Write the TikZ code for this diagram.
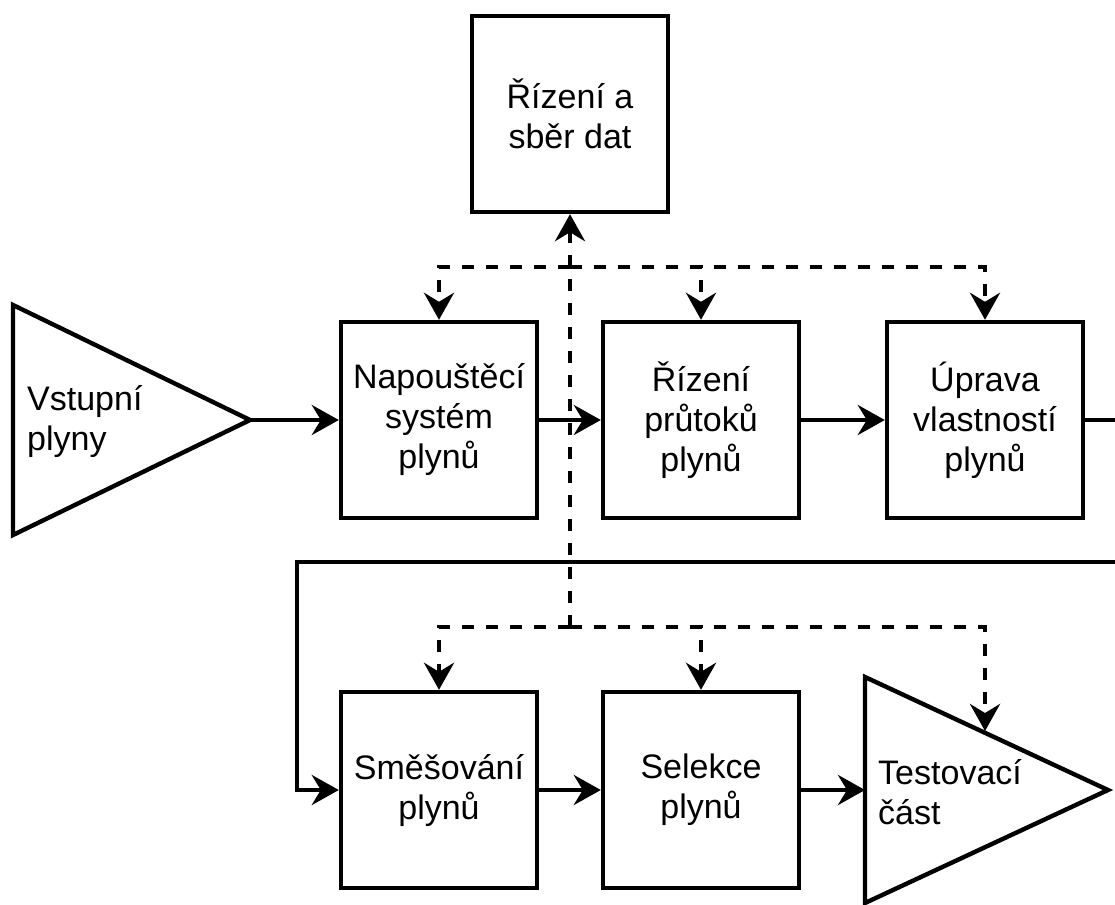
\documentclass[tikz,border=0pt]{standalone}
\usepackage{fontspec}
\setmainfont{Liberation Sans}
\usetikzlibrary{arrows.meta}
\begin{document}
\begin{tikzpicture}[x=1pt,y=-1pt,
  txt/.style={font=\fontsize{34}{40}\selectfont},
  block/.style={draw, line width=4.4pt, fill=white, minimum width=196pt,
    minimum height=196pt, inner sep=0pt, align=center, txt},
  lbl/.style={inner sep=0pt, align=left, txt, anchor=west},
  wire/.style={line width=4.4pt},
  flow/.style={wire, -{Stealth[length=27pt,width=30pt,inset=9pt]}},
  ctrl/.style={flow, dash pattern=on 12pt off 12pt}]
\useasboundingbox (0,0) rectangle (1115,904);
\clip (0,0) rectangle (1115,904);

% blocks
\node[block] (dat)  at (570,114) {Řízení a\\sběr dat};
\node[block] (napo) at (439,420) {Napouštěcí\\systém\\plynů};
\node[block] (prut) at (701,420) {Řízení\\průtoků\\plynů};
\node[block] (upr)  at (985,420) {Úprava\\vlastností\\plynů};
\node[block] (smes) at (439,790) {Směšování\\plynů};
\node[block] (sel)  at (701,790) {Selekce\\plynů};

% input and output triangles
\draw[wire] (13,305) -- (250,420) -- (13,535) -- cycle;
\coordinate (inTip) at (250,420);
\node[lbl] (inTxt) at (27,422) {Vstupní\\plyny};

\draw[wire] (865,677) -- (1108,790) -- (865,903) -- cycle;
\coordinate (testL) at (865,790);
\coordinate (testEdge) at (985,731);
\node[lbl] (testTxt) at (878,792) {Testovací\\část};

% gas flow
\coordinate (loopR) at (1135,562);
\coordinate (loopL) at (297,562);
\draw[flow] (inTip) -- (napo.west);
\draw[flow] (napo.east) -- (prut.west);
\draw[flow] (prut.east) -- (upr.west);
\draw[flow] (upr.east) -- (upr.east -| loopR) -- (loopR) -- (loopL) |- (smes.west);
\draw[flow] (smes.east) -- (sel.west);
\draw[flow] (sel.east) -- (testL);

% control and data acquisition bus
\coordinate (busT) at (570,267);
\coordinate (busB) at (570,627);
\draw[ctrl] (busT) -| (napo.north);
\draw[ctrl] (busT) -| (prut.north);
\draw[ctrl] (busT) -| (upr.north);
\draw[ctrl] (busB) -| (smes.north);
\draw[ctrl] (busB) -| (sel.north);
\draw[ctrl] (busB) -| (testEdge);
\draw[ctrl] (busB) -- (dat.south);
\end{tikzpicture}
\end{document}
